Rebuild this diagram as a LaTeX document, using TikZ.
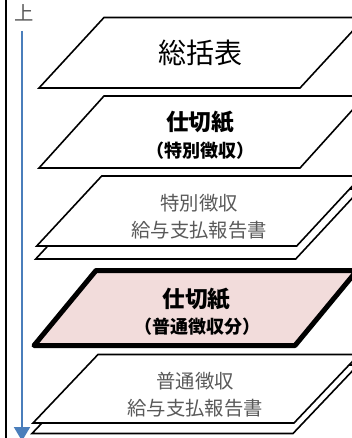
\documentclass[tikz,border=0pt]{standalone}
\usepackage{fontspec}
\newfontfamily\jp{Noto Sans CJK JP}
\usetikzlibrary{arrows.meta}
\definecolor{sheetpink}{HTML}{F2DCDB}
\definecolor{sheetgray}{HTML}{595959}
\definecolor{orderblue}{HTML}{4A7EBB}
\tikzset{
    sheet/.style={draw, fill=white, line width=1.2pt},
    divider/.style={draw, fill=sheetpink, line width=3.75pt, line join=round},
    bigtitle/.style={font=\jp\fontsize{21}{24}\selectfont},
    boldtitle/.style={font=\jp\bfseries\fontsize{17}{20}\selectfont},
    boldsub/.style={font=\jp\bfseries\fontsize{13.5}{16}\selectfont},
    graytitle/.style={font=\jp\fontsize{14.5}{17}\selectfont, text=sheetgray}
}
\begin{document}
\begin{tikzpicture}[x=0.75pt, y=-0.75pt]
            \useasboundingbox (0,0) rectangle (352,438);
            \clip (0,0) rectangle (352,438);

            \draw [line width=1.5pt] (6,0) -- (6,438);

            \node [font=\jp\fontsize{14.5}{17}\selectfont, text=sheetgray, inner sep=0] (up) at (24,13) {上};
            \coordinate (arrowtop) at (22,31);
            \coordinate (arrowbot) at (22,441);
            \draw [orderblue, line width=1.5pt, -{Triangle[width=12pt, length=10.5pt]}] (arrowtop) -- (arrowbot);

            \draw [sheet] (39,88) -- (300,88) -- (365,17.5) -- (104,17.5) -- cycle;
            \draw [sheet] (39,168) -- (300,168) -- (365,96) -- (104,96) -- cycle;
            \draw [sheet] (35.7,259) -- (295.7,259) -- (360.7,189) -- (100.7,189) -- cycle;
            \draw [sheet] (36.7,246) -- (296.7,246) -- (361.7,176) -- (101.7,176) -- cycle;
            \draw [divider] (34,345.5) -- (295,345.5) -- (357,270.5) -- (96,270.5) -- cycle;
            \draw [sheet] (32,433.5) -- (293,433.5) -- (358,365) -- (97,365) -- cycle;
            \draw [sheet] (33,423) -- (294,423) -- (359,354.5) -- (98,354.5) -- cycle;

            \begin{scope}[every node/.style={inner sep=0}]
                \node [bigtitle] (summary) at (200,52.5) {総括表};
                \node [boldtitle] (tokudiv) at (200,122.5) {仕切紙};
                \node [boldsub] (tokudivsub) at (200,150.5) {（特別徴収）};
                \node [graytitle] (tokurep) at (199,203) {特別徴収};
                \node [graytitle] (tokurepsub) at (199,230) {給与支払報告書};
                \node [boldtitle] (futsudiv) at (196.5,299) {仕切紙};
                \node [boldsub] (futsudivsub) at (197,326.5) {（普通徴収分）};
                \node [graytitle] (futsurep) at (195,381.5) {普通徴収};
                \node [graytitle] (futsurepsub) at (195,408) {給与支払報告書};
            \end{scope}
\end{tikzpicture}
\end{document}
